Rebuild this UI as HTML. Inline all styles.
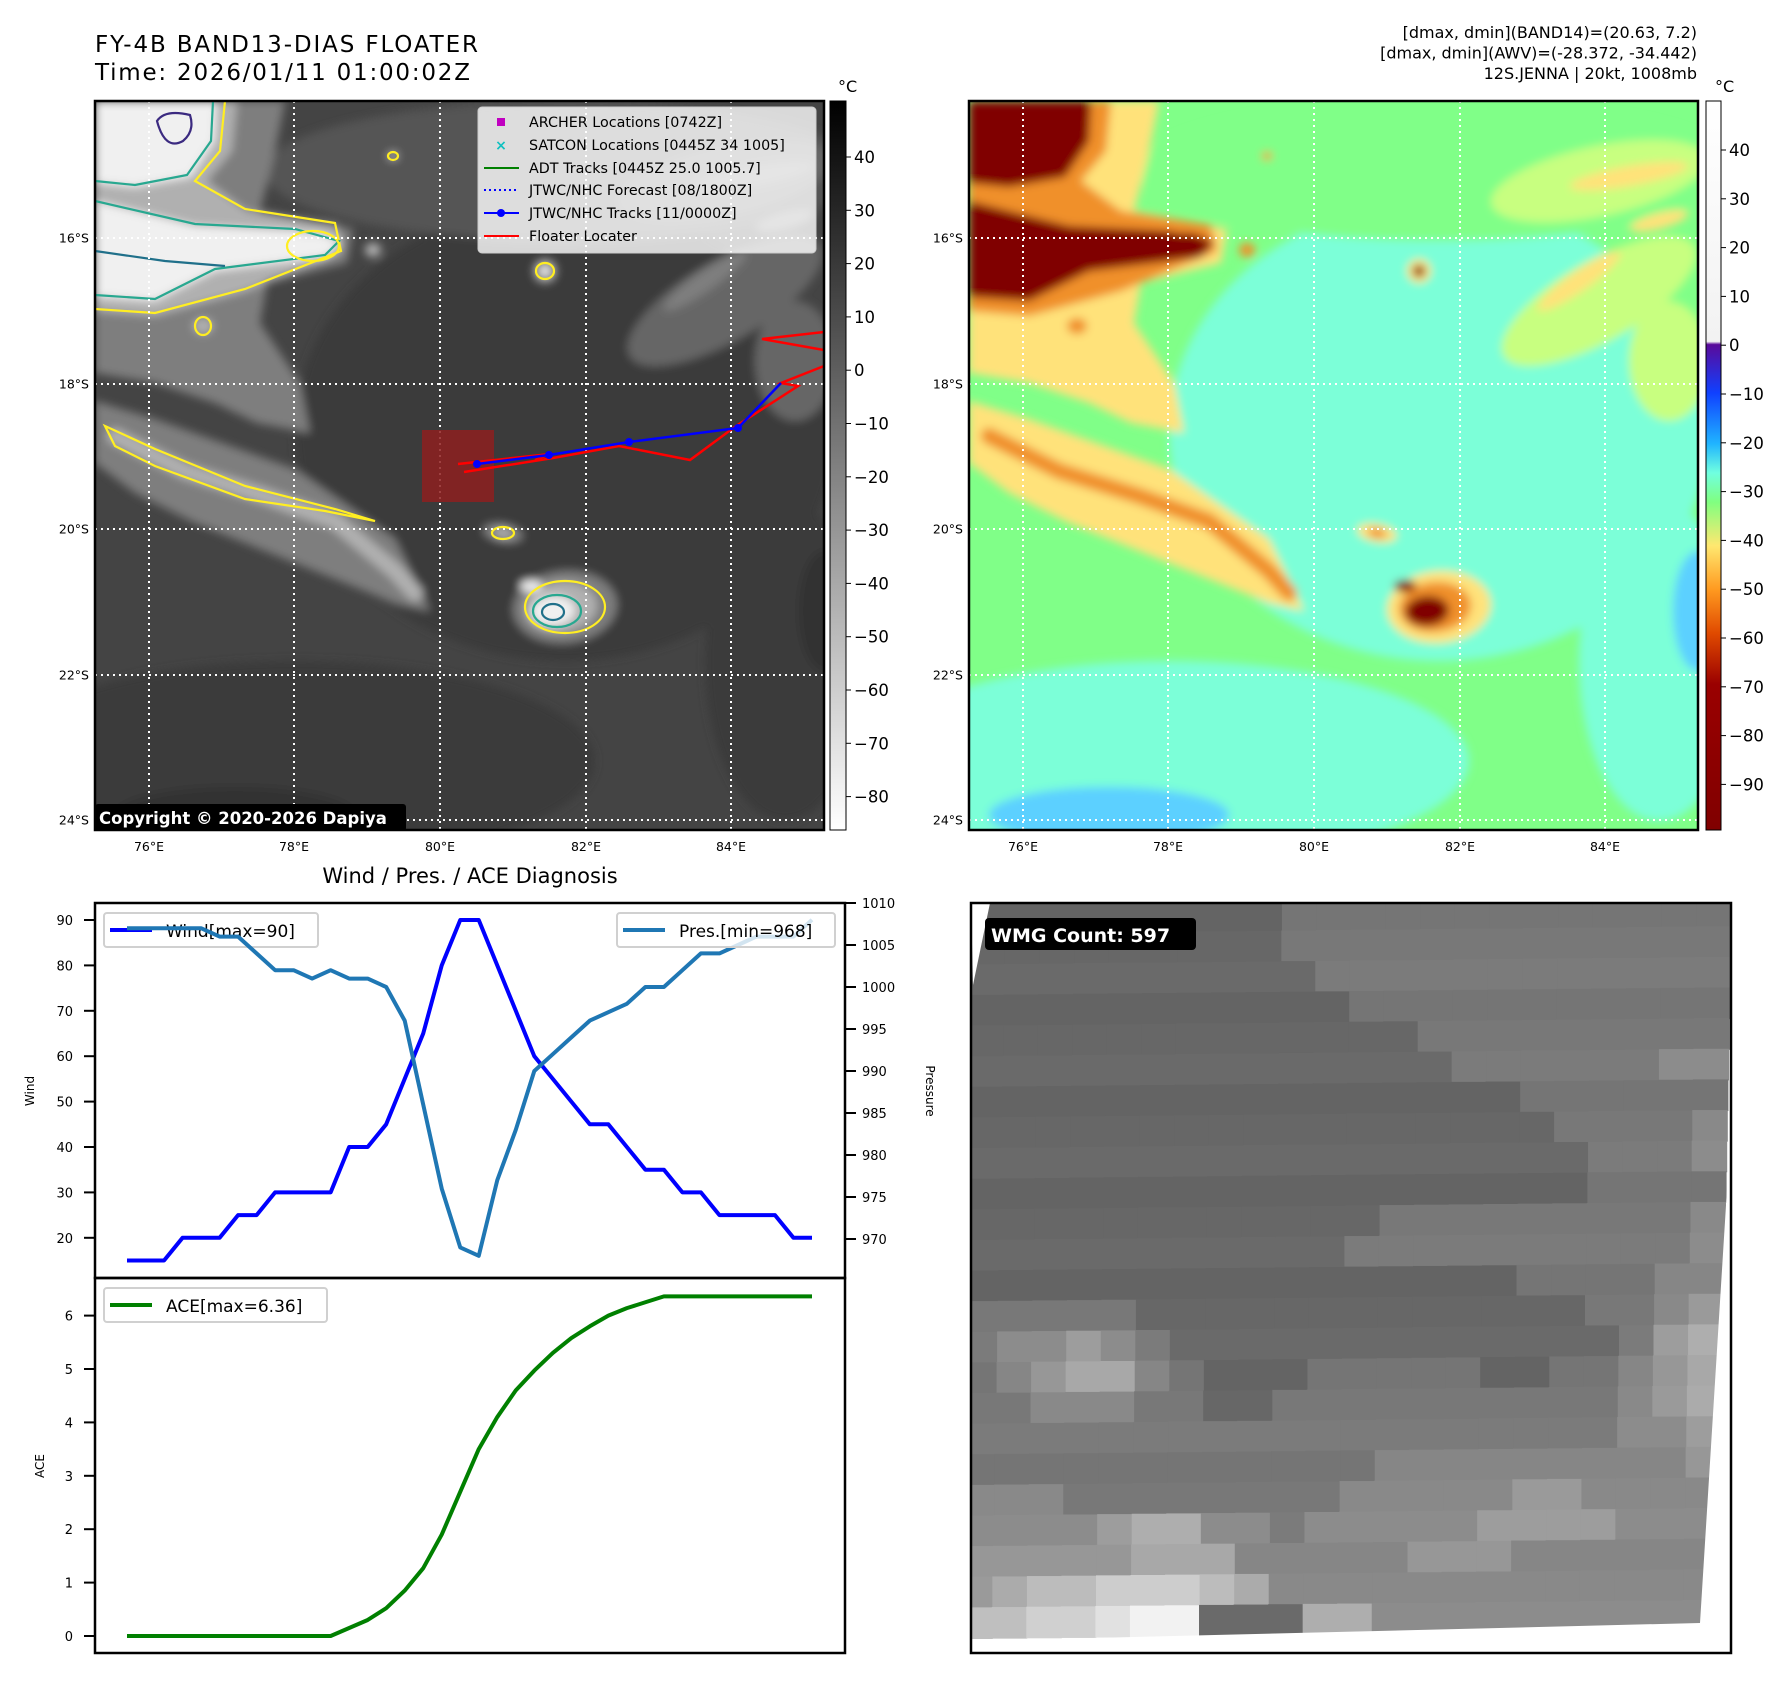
<!DOCTYPE html>
<html><head><meta charset="utf-8"><title>FY-4B BAND13 DIAS Floater</title>
<style>
html,body{margin:0;padding:0;background:#fff;}
svg{display:block;font-family:"DejaVu Sans","Liberation Sans",sans-serif;}
</style></head>
<body>
<svg id="fig" xmlns="http://www.w3.org/2000/svg" width="1788" height="1690" viewBox="0 0 1788 1690">
<defs>
  <filter id="blur" x="-5%" y="-5%" width="110%" height="110%"><feGaussianBlur stdDeviation="4.5"/></filter>
  <clipPath id="clipL"><rect x="95" y="101" width="729" height="729"/></clipPath>
  <clipPath id="clipR"><rect x="969" y="101" width="728" height="729"/></clipPath>
  <clipPath id="clipW"><rect x="971" y="903" width="760" height="750"/></clipPath>
  <linearGradient id="cbGray" x1="0" y1="0" x2="0" y2="1">
    <stop offset="0" stop-color="#000"/><stop offset="1" stop-color="#fff"/>
  </linearGradient>
  <linearGradient id="cbColor" x1="0" y1="0" x2="0" y2="1">
    <stop offset="0" stop-color="#ffffff"/>
    <stop offset="0.33" stop-color="#f2f2f2"/>
    <stop offset="0.334" stop-color="#5a0a9a"/>
    <stop offset="0.40" stop-color="#1040ff"/>
    <stop offset="0.47" stop-color="#20b4ff"/>
    <stop offset="0.51" stop-color="#70ffe0"/>
    <stop offset="0.55" stop-color="#80ff80"/>
    <stop offset="0.61" stop-color="#ffe870"/>
    <stop offset="0.67" stop-color="#ff9a20"/>
    <stop offset="0.73" stop-color="#e04a00"/>
    <stop offset="0.80" stop-color="#9a0000"/>
    <stop offset="1" stop-color="#800000"/>
  </linearGradient>
</defs>

<!-- Titles -->
<text x="95" y="52" font-size="23" textLength="383" fill="#000">FY-4B BAND13-DIAS FLOATER</text>
<text x="95" y="80" font-size="23" textLength="375" fill="#000">Time: 2026/01/11 01:00:02Z</text>
<text x="1697" y="38" font-size="16" text-anchor="end" fill="#000">[dmax, dmin](BAND14)=(20.63, 7.2)</text>
<text x="1697" y="58.5" font-size="16" text-anchor="end" fill="#000">[dmax, dmin](AWV)=(-28.372, -34.442)</text>
<text x="1697" y="79" font-size="16" text-anchor="end" fill="#000">12S.JENNA | 20kt, 1008mb</text>

<!-- Left map -->
<g>
  <rect x="95" y="101" width="729" height="729" fill="#444444"/>
  <g id="mapL" clip-path="url(#clipL)"></g>
</g>
<!-- Right map -->
<g>
  <rect x="969" y="101" width="728" height="729" fill="#80ff88"/>
  <g id="mapR" clip-path="url(#clipR)"></g>
</g>

<!-- Colorbars -->
<g>
  <rect x="830" y="101" width="16" height="729" fill="url(#cbGray)" stroke="#000" stroke-width="1"/>
  <text x="838" y="92" font-size="16" fill="#000">°C</text>
  <g id="cbLTicks"></g>
</g>
<g>
  <rect x="1706" y="101" width="15" height="729" fill="url(#cbColor)" stroke="#000" stroke-width="1"/>
  <text x="1715" y="92" font-size="16" fill="#000">°C</text>
  <g id="cbRTicks"></g>
</g>

<!-- Diagnosis chart -->
<text x="470" y="883" font-size="21" text-anchor="middle" fill="#000">Wind / Pres. / ACE Diagnosis</text>
<g id="chart"></g>

<!-- WMG panel -->
<g>
  <rect x="971" y="903" width="760" height="750" fill="#fff"/>
  <g id="wmg" clip-path="url(#clipW)"></g>
  <polygon points="971,1641 1700,1623 1731,1125 1731,1653 971,1653" fill="#fff"/>
  <polygon points="971,903 990,903 973,985" fill="#fff"/>
  <rect x="971" y="903" width="760" height="750" fill="none" stroke="#000" stroke-width="2.5"/>
  <rect x="985" y="918" width="211" height="32" rx="4" fill="#000"/>
  <text x="991" y="942" font-size="19" font-weight="bold" fill="#fff">WMG Count: 597</text>
</g>

<script>
const NS = 'http://www.w3.org/2000/svg';
function mk(tag, attrs, parent){
  const el = document.createElementNS(NS, tag);
  for (const k in attrs) el.setAttribute(k, attrs[k]);
  if (parent) parent.appendChild(el);
  return el;
}

/* ---------------- Maps ---------------- */
const palRight = {gr:'#80ff88', cy:'#7cffd8', bl:'#5cd0ff', ly:'#c8ff80', y:'#ffe27a', o:'#f0902a', r:'#c84000', m:'#800000'};
const palLeft  = {gr:'#555555', cy:'#3a3a3a', bl:'#333333', ly:'#666666', y:'#7e7e7e', o:'#b0b0b0', r:'#d6d6d6', m:'#f0f0f0'};
const shapes = [
  {t:'e', cx:470, cy:330, rx:270, ry:230, rot:0, l:'cy'},
  {t:'e', cx:200, cy:660, rx:300, ry:100, rot:0, l:'cy'},
  {t:'e', cx:690, cy:560, rx:80, ry:160, rot:0, l:'cy'},
  {t:'e', cx:140, cy:714, rx:120, ry:28, rot:0, l:'bl'},
  {t:'e', cx:729, cy:510, rx:25, ry:60, rot:0, l:'bl'},
  {t:'e', cx:470, cy:70, rx:300, ry:70, rot:0, l:'gr'},
  {t:'e', cx:630, cy:80, rx:110, ry:35, rot:-12, l:'ly'},
  {t:'e', cx:630, cy:200, rx:110, ry:40, rot:-30, l:'ly'},
  {t:'e', cx:700, cy:260, rx:40, ry:60, rot:0, l:'ly'},
  {t:'p', d:'M0,0 L190,0 L178,60 L165,110 L258,128 L252,162 L172,182 L165,222 L205,282 L215,332 L162,322 L120,302 L60,282 L0,272 Z', l:'y'},
  {t:'p', d:'M0,300 L60,318 L200,368 L300,438 L335,510 L300,502 L200,462 L100,422 L40,392 L0,362 Z', l:'y'},
  {t:'e', cx:660, cy:75, rx:60, ry:10, rot:-10, l:'y'},
  {t:'e', cx:610, cy:180, rx:50, ry:10, rot:-35, l:'y'},
  {t:'e', cx:690, cy:120, rx:30, ry:8, rot:-15, l:'y'},
  {t:'p', d:'M0,0 L142,0 L137,50 L112,80 L152,110 L242,124 L248,150 L152,190 L60,215 L0,210 Z', l:'o'},
  {t:'l', d:'M20,335 L90,370 L170,395 L240,420 L300,470 L320,492', w:16, l:'o'},
  {t:'e', cx:108, cy:225, rx:10, ry:8, rot:0, l:'o'},
  {t:'p', d:'M0,0 L122,0 L120,40 L96,76 L40,86 L0,82 Z', l:'m'},
  {t:'p', d:'M0,100 L100,125 L200,130 L246,140 L232,156 L120,170 L60,200 L0,196 Z', l:'m'},
  {t:'e', cx:218, cy:145, rx:22, ry:13, rot:0, l:'m'},
  {t:'e', cx:470, cy:506, rx:52, ry:36, rot:-5, l:'y'},
  {t:'e', cx:466, cy:506, rx:36, ry:25, rot:-5, l:'o'},
  {t:'e', cx:458, cy:510, rx:22, ry:15, rot:-5, l:'m'},
  {t:'e', cx:436, cy:485, rx:11, ry:6, rot:0, l:'m'},
  {t:'e', cx:450, cy:170, rx:12, ry:12, rot:0, l:'y'},
  {t:'e', cx:450, cy:170, rx:6, ry:6, rot:0, l:'m'},
  {t:'e', cx:408, cy:432, rx:20, ry:9, rot:10, l:'y'},
  {t:'e', cx:408, cy:432, rx:9, ry:5, rot:10, l:'o'},
  {t:'e', cx:278, cy:149, rx:8, ry:7, rot:0, l:'o'},
  {t:'e', cx:298, cy:55, rx:5, ry:4, rot:0, l:'o'}
];
function drawShape(s, g, ox, oy, fill){
  if (s.t === 'e') {
    const el = mk('ellipse', {cx:ox+s.cx, cy:oy+s.cy, rx:s.rx, ry:s.ry, fill:fill,
      transform:'rotate(' + s.rot + ' ' + (ox+s.cx) + ' ' + (oy+s.cy) + ')'}, g);
    
    
  } else if (s.t === 'p') {
    const el = mk('path', {d:s.d, fill:fill, transform:'translate(' + ox + ',' + oy + ')'}, g);
    
    
  } else {
    const el = mk('path', {d:s.d, fill:'none', stroke:fill, 'stroke-width':s.w, 'stroke-linecap':'round', 'stroke-linejoin':'round', transform:'translate(' + ox + ',' + oy + ')'}, g);
    
    
  }
}
function drawMap(gid, ox, oy, pal, isLeft){
  const root = document.getElementById(gid);
  const g = mk('g', {filter:'url(#blur)'}, root);
  shapes.forEach(s => drawShape(s, g, ox, oy, pal[s.l]));
  if (isLeft) {
    const c = mk('g', {fill:'none', 'stroke-width':2.2, transform:'translate(' + ox + ',' + oy + ')'}, root);
    
    
    mk('path', {d:'M130,0 L125,50 L100,80 L150,108 L240,122 L246,150 L150,188 L60,212 L0,208', stroke:'#ffee22'}, c);
    mk('path', {d:'M118,0 L116,40 L92,74 L40,84 L0,80 M0,100 L100,123 L200,128 L244,140 L230,154 L120,168 L60,198 L0,194', stroke:'#28a890'}, c);
    mk('path', {d:'M0,150 L70,160 L130,165', stroke:'#20708a'}, c);
    mk('path', {d:'M62,20 Q70,8 95,14 Q100,30 88,40 Q70,50 62,20 Z', stroke:'#3b2a80'}, c);
    mk('path', {d:'M10,325 L60,348 L150,385 L240,408 L280,420 L230,410 L150,398 L60,365 L20,345 Z', stroke:'#ffee22'}, c);
    mk('ellipse', {cx:470, cy:506, rx:40, ry:26, stroke:'#ffee22'}, c);
    mk('ellipse', {cx:462, cy:510, rx:24, ry:16, stroke:'#28a890'}, c);
    mk('ellipse', {cx:458, cy:511, rx:11, ry:8, stroke:'#20708a'}, c);
    mk('ellipse', {cx:408, cy:432, rx:11, ry:6, stroke:'#ffee22'}, c);
    mk('ellipse', {cx:450, cy:170, rx:9, ry:8, stroke:'#ffee22'}, c);
    mk('ellipse', {cx:218, cy:145, rx:26, ry:15, stroke:'#ffee22'}, c);
    mk('ellipse', {cx:108, cy:225, rx:8, ry:9, stroke:'#ffee22'}, c);
    mk('ellipse', {cx:298, cy:55, rx:5, ry:4, stroke:'#ffee22'}, c);
  }
  const grid = mk('g', {stroke:'#fff', 'stroke-width':2, 'stroke-dasharray':'2,4'}, root);
  
  
  [149,294,440,586,731].forEach(x => mk('line', {x1:x-95+ox, y1:oy, x2:x-95+ox, y2:oy+729}, grid));
  [238,384,529,675,820].forEach(y => mk('line', {x1:ox, y1:y, x2:ox+729, y2:y}, grid));
}
drawMap('mapL', 95, 101, palLeft, true);
drawMap('mapR', 969, 101, palRight, false);

(function(){
  const root = document.getElementById('mapL');
  const ox = 95, oy = 101;
  const sq = mk('rect', {x:ox+327, y:oy+329, width:72, height:72, fill:'#8e2020', opacity:0.85}, root);
  
  
  const redPts = [[369,371],[458,357],[524,345],[595,359],[641,325],[703,285],[686,282],[729,265]];
  const red = mk('polyline', {points:redPts.map(p => (ox+p[0]) + ',' + (oy+p[1])).join(' '), fill:'none', stroke:'#ff0000', 'stroke-width':2.5}, root);
  
  
  mk('polyline', {points:[[363,363],[455,353],[440,359]].map(p => (ox+p[0]) + ',' + (oy+p[1])).join(' '), fill:'none', stroke:'#ff0000', 'stroke-width':2.5}, root);
  mk('polyline', {points:[[729,231],[667,238],[729,249]].map(p => (ox+p[0]) + ',' + (oy+p[1])).join(' '), fill:'none', stroke:'#ff0000', 'stroke-width':2.5}, root);
  const bluePts = [[382,363],[454,354],[534,341],[643,327],[686,282]];
  const blue = mk('polyline', {points:bluePts.map(p => (ox+p[0]) + ',' + (oy+p[1])).join(' '), fill:'none', stroke:'#0000ff', 'stroke-width':2.5}, root);
  
  
  bluePts.slice(0,4).forEach(p => mk('circle', {cx:ox+p[0], cy:oy+p[1], r:4, fill:'#0000ff'}, root));

  const lg = mk('g', {}, root);
  
  
  mk('rect', {x:ox+383, y:oy+6, width:338, height:146, rx:4, fill:'#ffffff', 'fill-opacity':0.8, stroke:'#cccccc'}, lg);
  const items = ['ARCHER Locations [0742Z]','SATCON Locations [0445Z 34 1005]','ADT Tracks [0445Z 25.0 1005.7]','JTWC/NHC Forecast [08/1800Z]','JTWC/NHC Tracks [11/0000Z]','Floater Locater'];
  const ys = [21,44,67,89,112,135];
  items.forEach((t,i) => {
    const tx = mk('text', {x:ox+434, y:oy+ys[i]+5, 'font-size':14.3, fill:'#000'}, lg);
    tx.textContent = t;
  });
  const mx = ox+406;
  mk('rect', {x:mx-4, y:oy+17, width:8, height:8, fill:'#c000c0'}, lg);
  const cx = mk('text', {x:mx, y:oy+49, 'font-size':14, 'font-weight':'bold', fill:'#10c0c0', 'text-anchor':'middle'}, lg);
  cx.textContent = '×';
  mk('line', {x1:ox+389, y1:oy+67, x2:ox+424, y2:oy+67, stroke:'#008000', 'stroke-width':2}, lg);
  mk('line', {x1:ox+389, y1:oy+89, x2:ox+424, y2:oy+89, stroke:'#0000ff', 'stroke-width':2, 'stroke-dasharray':'2,3'}, lg);
  mk('line', {x1:ox+389, y1:oy+112, x2:ox+424, y2:oy+112, stroke:'#0000ff', 'stroke-width':2}, lg);
  mk('circle', {cx:mx, cy:oy+112, r:4, fill:'#0000ff'}, lg);
  mk('line', {x1:ox+389, y1:oy+135, x2:ox+424, y2:oy+135, stroke:'#ff0000', 'stroke-width':2}, lg);

  const cb = mk('rect', {x:ox, y:oy+703, width:311, height:27, rx:3, fill:'#000'}, root);
  
  
  const ct = mk('text', {x:ox+4, y:oy+723, 'font-size':16.5, 'font-weight':'bold', fill:'#fff'}, root);
  
  
  ct.textContent = 'Copyright © 2020-2026 Dapiya';
})();

(function(){
  const svg = document.getElementById('fig');
  const latLabels = ['16°S','18°S','20°S','22°S','24°S'];
  const latY = [238,384,529,675,820];
  const lonLabels = ['76°E','78°E','80°E','82°E','84°E'];
  const lonX = [149,294,440,586,731];
  [0,874].forEach(off => {
    const fr = mk('rect', {x:95+off, y:101, width:729, height:729, fill:'none', stroke:'#000', 'stroke-width':2.5}, svg);
    
    
    latLabels.forEach((t,i) => {
      const el = mk('text', {x:89+off, y:latY[i]+4.5, 'font-size':12.5, 'text-anchor':'end', fill:'#000'}, svg);
      
      
      el.textContent = t;
    });
    lonLabels.forEach((t,i) => {
      const el = mk('text', {x:lonX[i]+off, y:851, 'font-size':12.5, 'text-anchor':'middle', fill:'#000'}, svg);
      
      
      el.textContent = t;
    });
  });
})();

const cbLeftTicks = [40,30,20,10,0,-10,-20,-30,-40,-50,-60,-70,-80];
const cbRightTicks = [40,30,20,10,0,-10,-20,-30,-40,-50,-60,-70,-80,-90];
function cbLeftY(v){ return 157 + (40 - v) * 5.33; }
function cbRightY(v){ return 150 + (40 - v) * 4.88; }
(function(){
  const gl = document.getElementById('cbLTicks');
  cbLeftTicks.forEach(v => {
    const y = cbLeftY(v);
    mk('line', {x1:846, y1:y, x2:851, y2:y, stroke:'#000', 'stroke-width':1}, gl);
    const t = mk('text', {x:854, y:y+6, 'font-size':16.5, fill:'#000'}, gl);
    
    
    t.textContent = String(v).replace('-', '\u2212');
  });
  const gr = document.getElementById('cbRTicks');
  cbRightTicks.forEach(v => {
    const y = cbRightY(v);
    mk('line', {x1:1721, y1:y, x2:1726, y2:y, stroke:'#000', 'stroke-width':1}, gr);
    const t = mk('text', {x:1729, y:y+6, 'font-size':16.5, fill:'#000'}, gr);
    
    
    t.textContent = String(v).replace('-', '\u2212');
  });
})();

/* ---------------- Diagnosis chart ---------------- */
const windValues = [15,15,15,20,20,20,25,25,30,30,30,30,40,40,45,55,65,80,90,90,80,70,60,55,50,45,45,40,35,35,30,30,25,25,25,25,20,20];
const presValues = [1007,1007,1007,1007,1007,1006,1006,1004,1002,1002,1001,1002,1001,1001,1000,996,986,976,969,968,977,983,990,992,994,996,997,998,1000,1000,1002,1004,1004,1005,1006,1006,1006,1008];
const aceValues = [0,0,0,0,0,0,0,0,0,0,0,0,0.15,0.3,0.52,0.85,1.27,1.9,2.7,3.5,4.1,4.6,4.97,5.3,5.58,5.8,6.0,6.14,6.25,6.36,6.36,6.36,6.36,6.36,6.36,6.36,6.36,6.36];
const windTicks = [20,30,40,50,60,70,80,90];
const presTicks = [970,975,980,985,990,995,1000,1005,1010];
const aceTicks = [0,1,2,3,4,5,6];

function xAt(i){ return 127 + i * (812 - 127) / (windValues.length - 1); }
function yWind(v){ return 920 + (90 - v) * 4.54; }
function yPres(p){ return 903 + (1010 - p) * 8.4; }
function yAce(a){ return 1636 - a * 53.4; }

(function(){
  const g = document.getElementById('chart');
  const ax1 = mk('rect', {x:95, y:903, width:750, height:375, fill:'#fff', stroke:'none'}, g);
  
  
  const ax2 = mk('rect', {x:95, y:1278, width:750, height:375, fill:'#fff', stroke:'none'}, g);
  
  

  windTicks.forEach(v => {
    const y = yWind(v);
    mk('line', {x1:84, y1:y, x2:95, y2:y, stroke:'#000', 'stroke-width':2}, g);
    const t = mk('text', {x:73, y:y+5, 'font-size':13, 'text-anchor':'end', fill:'#000'}, g);
    
    
    t.textContent = v;
  });
  presTicks.forEach(v => {
    const y = yPres(v);
    mk('line', {x1:845, y1:y, x2:856, y2:y, stroke:'#000', 'stroke-width':2}, g);
    const t = mk('text', {x:862, y:y+5, 'font-size':13, fill:'#000'}, g);
    
    
    t.textContent = v;
  });
  aceTicks.forEach(v => {
    const y = yAce(v);
    mk('line', {x1:84, y1:y, x2:95, y2:y, stroke:'#000', 'stroke-width':2}, g);
    const t = mk('text', {x:73, y:y+5, 'font-size':13, 'text-anchor':'end', fill:'#000'}, g);
    
    
    t.textContent = v;
  });
  const wl = mk('text', {x:0, y:0, 'font-size':12, 'text-anchor':'middle', fill:'#000', transform:'translate(34,1091) rotate(-90)'}, g);
  
  
  wl.textContent = 'Wind';
  const pl = mk('text', {x:0, y:0, 'font-size':12, 'text-anchor':'middle', fill:'#000', transform:'translate(926,1091) rotate(90)'}, g);
  
  
  pl.textContent = 'Pressure';
  const al = mk('text', {x:0, y:0, 'font-size':12, 'text-anchor':'middle', fill:'#000', transform:'translate(44,1466) rotate(-90)'}, g);
  
  
  al.textContent = 'ACE';

  const wLine = mk('polyline', {points:windValues.map((v,i) => xAt(i) + ',' + yWind(v)).join(' '), fill:'none', stroke:'#0000ff', 'stroke-width':4, 'stroke-linejoin':'round'}, g);
  
  
  const wLeg = mk('g', {}, g);
  
  
  mk('rect', {x:104, y:913, width:214, height:34, rx:3, fill:'#fff', 'fill-opacity':0.8, stroke:'#d0d0d0', 'stroke-width':2}, wLeg);
  mk('line', {x1:110, y1:930, x2:152, y2:930, stroke:'#0000ff', 'stroke-width':4}, wLeg);
  const wt = mk('text', {x:166, y:937, 'font-size':17, fill:'#000'}, wLeg);
  wt.textContent = 'Wind[max=90]';
  const pLine = mk('polyline', {points:presValues.map((v,i) => xAt(i) + ',' + yPres(v)).join(' '), fill:'none', stroke:'#1f77b4', 'stroke-width':4, 'stroke-linejoin':'round'}, g);
  
  
  const pLeg = mk('g', {}, g);
  
  
  mk('rect', {x:617, y:913, width:218, height:34, rx:3, fill:'#fff', 'fill-opacity':0.8, stroke:'#d0d0d0', 'stroke-width':2}, pLeg);
  mk('line', {x1:623, y1:930, x2:665, y2:930, stroke:'#1f77b4', 'stroke-width':4}, pLeg);
  const pt = mk('text', {x:679, y:937, 'font-size':17, fill:'#000'}, pLeg);
  pt.textContent = 'Pres.[min=968]';
  const aLine = mk('polyline', {points:aceValues.map((v,i) => xAt(i) + ',' + yAce(v)).join(' '), fill:'none', stroke:'#008000', 'stroke-width':4, 'stroke-linejoin':'round'}, g);
  
  
  const aLeg = mk('g', {}, g);
  
  
  mk('rect', {x:104, y:1288, width:223, height:34, rx:3, fill:'#fff', 'fill-opacity':0.8, stroke:'#d0d0d0', 'stroke-width':2}, aLeg);
  mk('line', {x1:110, y1:1305, x2:152, y2:1305, stroke:'#008000', 'stroke-width':4}, aLeg);
  const at = mk('text', {x:166, y:1312, 'font-size':17, fill:'#000'}, aLeg);
  at.textContent = 'ACE[max=6.36]';
  mk('rect', {x:95, y:903, width:750, height:375, fill:'none', stroke:'#000', 'stroke-width':2.5}, g);
  mk('rect', {x:95, y:1278, width:750, height:375, fill:'none', stroke:'#000', 'stroke-width':2.5}, g);
})();

/* ---------------- WMG blocks ---------------- */
const wmgRows = [
 '0000000001111111111111',
 '0000000001111111111111',
 '0000000000111111111111',
 '0000000000011111111111',
 '0000000000000111111111',
 '0000000000000011111122',
 '0000000000000000111111',
 '0000000000000000011112',
 '0000000000000000001112',
 '0000000000000000001111',
 '0000000000001111111112',
 '0000000000011111111112',
 '0000000000000000111122',
 '1111100000000000001123',
 '1223210000000000000134',
 '1234421000111110011234',
 '1122211001111111111234',
 '1111111111111111111223',
 '1111111111112222222223',
 '2221111111122222332222',
 '2222344221222223333222',
 '3333344422222333222222',
 '3455666542222222222222',
 '5566788000442222222222'
];
(function(){
  const g = document.getElementById('wmg');
  const cw = 760 / 22, ch = 735 / 24;
  wmgRows.forEach((row, r) => {
    for (let c = 0; c < row.length; c++) {
      const v = +row[c];
      const gv = Math.min(245, 100 + v * 17 + ((r * 7 + c * 3) % 3) * 3);
      const col = 'rgb(' + gv + ',' + gv + ',' + gv + ')';
      const cell = mk('rect', {x:971 + c * cw - r * 0.6, y:903 + r * ch - c * 0.35, width:cw + 1, height:ch + 1, fill:col}, g);
      
      
    }
  });
})();
</script>
</svg>
</body></html>
